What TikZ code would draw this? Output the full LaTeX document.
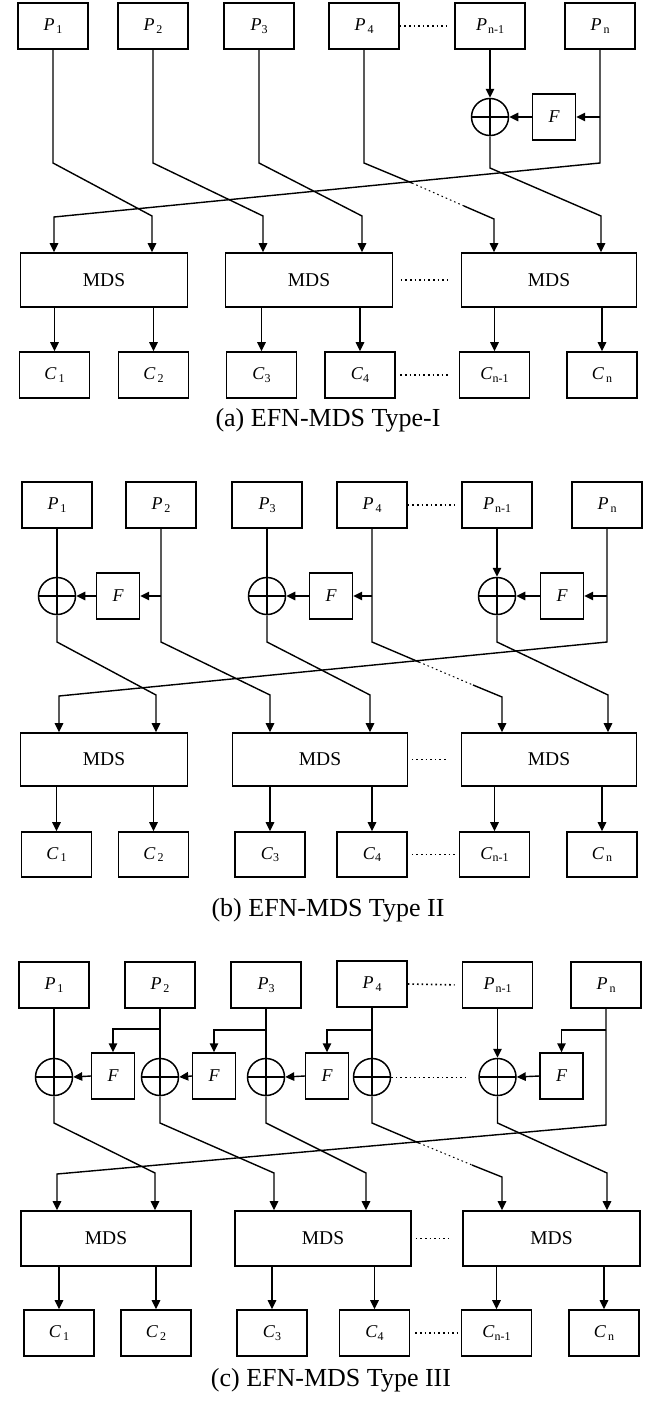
\documentclass[tikz,border=0pt]{standalone}
\usepackage{fontspec}
\setmainfont{Liberation Serif}
\usetikzlibrary{arrows.meta}
\newcommand{\lab}[3][2pt]{\textit{#2}\hspace{#1}\raisebox{-2.5pt}{\fontsize{12}{12}\selectfont #3}}
\begin{document}
\begin{tikzpicture}[x=1pt,y=-1pt,
box/.style={draw,line width=1.6pt,inner sep=0pt,minimum width=70pt,minimum height=46pt,font=\fontsize{18}{18}\selectfont},
mds/.style={draw,line width=1.6pt,inner sep=0pt,minimum height=54pt,font=\fontsize{19.5}{20}\selectfont},
fblock/.style={draw,line width=1.4pt,inner sep=0pt,minimum width=43pt,minimum height=46pt,font=\fontsize{18}{18}\selectfont\itshape},
xor/.style={draw,circle,line width=1.5pt,minimum size=37pt,inner sep=0pt,path picture={\draw[line width=1.5pt] (path picture bounding box.north) -- (path picture bounding box.south) (path picture bounding box.west) -- (path picture bounding box.east);}},
wire/.style={line width=1.4pt},
arr/.style={-{Triangle[length=9pt,width=8.5pt]}},
dotline/.style={line width=1.6pt,dash pattern=on 1.6pt off 3pt},
subcap/.style={font=\fontsize{26}{26}\selectfont}]
\useasboundingbox (0,0) rectangle (657,1405);
\node[box] (Pa1) at (53,26) {\lab{P}{1}};
\node[box] (Pa2) at (153,26) {\lab{P}{2}};
\node[box] (Pa3) at (259,26) {\lab[0pt]{P}{3}};
\node[box] (Pa4) at (364,26) {\lab{P}{4}};
\node[box] (Pa5) at (490,26) {\lab[1pt]{P}{n-1}};
\node[box] (Pa6) at (600,26) {\lab{P}{n}};
\node[xor] (Xa) at (490,117) {};
\node[fblock] (Fa) at (554,117) {F};
\node[mds,minimum width=167pt] (Ma1) at (104,280) {MDS};
\node[mds,minimum width=167pt] (Ma2) at (309,280) {MDS};
\node[mds,minimum width=175pt] (Ma3) at (549,280) {MDS};
\node[box] (Ca1) at (54.5,375) {\lab{C}{1}};
\node[box] (Ca2) at (153.5,375) {\lab{C}{2}};
\node[box] (Ca3) at (261.5,375) {\lab[0pt]{C}{3}};
\node[box] (Ca4) at (360,375) {\lab[0pt]{C}{4}};
\node[box] (Ca5) at (494.5,375) {\lab[0pt]{C}{n-1}};
\node[box] (Ca6) at (602,375) {\lab{C}{n}};
\node[subcap] (capa) at (328,420) {(a) EFN-MDS Type-I};
\draw[dotline,shorten >=7pt] (Pa4.east) -- (Pa5.west);
\draw[wire,arr] (Pa5.south) -- (Xa.north);
\draw[wire,arr] (Pa6.south |- Fa.east) -- (Fa.east);
\draw[wire,arr] (Fa.west) -- (Xa.east);
\draw[wire,arr] (Pa1.south) -- (53,163) -- (152,216) -- (152,216 |- Ma1.north);
\draw[wire,arr] (Pa2.south) -- (153,163) -- (263,216) -- (263,216 |- Ma2.north);
\draw[wire,arr] (Pa3.south) -- (259,163) -- (362,216) -- (362,216 |- Ma2.north);
\draw[wire] (Pa4.south) -- (364,163) -- (412,183);
\draw[dotline,line width=1pt] (412,183) -- (464,206);
\draw[wire,arr] (464,206) -- (494,219) -- (494,219 |- Ma3.north);
\draw[wire,arr] (Xa.south) -- (490,168) -- (601,216) -- (601,216 |- Ma3.north);
\draw[wire,arr] (Pa6.south) -- (600,163) -- (54,217) -- (54,217 |- Ma1.north);
\draw[dotline,shorten <=7.5pt,shorten >=13.5pt] (Ma2.east) -- (Ma3.west);
\draw[dotline,shorten <=4.5pt,shorten >=11pt] (Ca4.east) -- (Ca5.west);
\draw[wire,arr] (Ca1 |- Ma1.south) -- (Ca1.north);
\draw[wire,arr] (Ca2 |- Ma1.south) -- (Ca2.north);
\draw[wire,arr] (Ca3 |- Ma2.south) -- (Ca3.north);
\draw[wire,arr] (Ca4 |- Ma2.south) -- (Ca4.north);
\draw[wire,arr] (Ca5 |- Ma3.south) -- (Ca5.north);
\draw[wire,arr] (Ca6 |- Ma3.south) -- (Ca6.north);
\node[box] (Pb1) at (57,505) {\lab{P}{1}};
\node[box] (Pb2) at (161,505) {\lab{P}{2}};
\node[box] (Pb3) at (267,505) {\lab[0pt]{P}{3}};
\node[box] (Pb4) at (372,505) {\lab{P}{4}};
\node[box] (Pb5) at (497,505) {\lab[1pt]{P}{n-1}};
\node[box] (Pb6) at (607,505) {\lab{P}{n}};
\node[xor] (Xb1) at (57,596) {};
\node[xor] (Xb2) at (267,596) {};
\node[xor] (Xb3) at (497,596) {};
\node[fblock] (Fb1) at (118,596) {F};
\node[fblock] (Fb2) at (331,596) {F};
\node[fblock] (Fb3) at (562,596) {F};
\node[mds,minimum width=167pt,minimum height=53pt] (Mb1) at (104,759.5) {MDS};
\node[mds,minimum width=175pt,minimum height=53pt] (Mb2) at (320,759.5) {MDS};
\node[mds,minimum width=175pt,minimum height=53pt] (Mb3) at (549,759.5) {MDS};
\node[box,minimum height=45pt] (Cb1) at (56.5,854.5) {\lab{C}{1}};
\node[box,minimum height=45pt] (Cb2) at (153.5,854.5) {\lab{C}{2}};
\node[box,minimum height=45pt] (Cb3) at (270,854.5) {\lab[0pt]{C}{3}};
\node[box,minimum height=45pt] (Cb4) at (372,854.5) {\lab[0pt]{C}{4}};
\node[box,minimum height=45pt] (Cb5) at (494.5,854.5) {\lab[0pt]{C}{n-1}};
\node[box,minimum height=45pt] (Cb6) at (602,854.5) {\lab{C}{n}};
\node[subcap] (capb) at (328,910) {(b) EFN-MDS Type II};
\draw[dotline,shorten >=7pt] (Pb4.east) -- (Pb5.west);
\draw[wire] (Pb1.south) -- (Xb1.north);
\draw[wire] (Pb3.south) -- (Xb2.north);
\draw[wire,arr] (Pb5.south) -- (Xb3.north);
\draw[wire,arr] (Pb2.south |- Fb1.east) -- (Fb1.east);
\draw[wire,arr] (Pb4.south |- Fb2.east) -- (Fb2.east);
\draw[wire,arr] (Pb6.south |- Fb3.east) -- (Fb3.east);
\draw[wire,arr] (Fb1.west) -- (Xb1.east);
\draw[wire,arr] (Fb2.west) -- (Xb2.east);
\draw[wire,arr] (Fb3.west) -- (Xb3.east);
\draw[wire,arr] (Xb1.south) -- (57,642) -- (156,695) -- (156,695 |- Mb1.north);
\draw[wire,arr] (Pb2.south) -- (161,642) -- (270,695) -- (270,695 |- Mb2.north);
\draw[wire,arr] (Xb2.south) -- (267,642) -- (370,695) -- (370,695 |- Mb2.north);
\draw[wire] (Pb4.south) -- (372,642) -- (419,662);
\draw[dotline,line width=1pt] (419,662) -- (473,685);
\draw[wire,arr] (473,685) -- (502,697) -- (502,697 |- Mb3.north);
\draw[wire,arr] (Xb3.south) -- (497,642) -- (608,695) -- (608,695 |- Mb3.north);
\draw[wire,arr] (Pb6.south) -- (607,642) -- (59,696) -- (59,696 |- Mb1.north);
\draw[dotline,shorten <=3.5pt,shorten >=13.5pt] (Mb2.east) -- (Mb3.west);
\draw[dotline,shorten <=4pt,shorten >=2.5pt] (Cb4.east) -- (Cb5.west);
\draw[wire,arr] (Cb1 |- Mb1.south) -- (Cb1.north);
\draw[wire,arr] (Cb2 |- Mb1.south) -- (Cb2.north);
\draw[wire,arr] (Cb3 |- Mb2.south) -- (Cb3.north);
\draw[wire,arr] (Cb4 |- Mb2.south) -- (Cb4.north);
\draw[wire,arr] (Cb5 |- Mb3.south) -- (Cb5.north);
\draw[wire,arr] (Cb6 |- Mb3.south) -- (Cb6.north);
\node[box] (Pc1) at (54,985) {\lab{P}{1}};
\node[box] (Pc2) at (160,985) {\lab{P}{2}};
\node[box] (Pc3) at (266,985) {\lab[0pt]{P}{3}};
\node[box] (Pc4) at (372,984) {\lab{P}{4}};
\node[box] (Pc5) at (497.5,985) {\lab[1pt]{P}{n-1}};
\node[box] (Pc6) at (606,985) {\lab{P}{n}};
\node[xor] (Xc1) at (54,1077) {};
\node[xor] (Xc2) at (160,1077) {};
\node[xor] (Xc3) at (266,1077) {};
\node[xor] (Xc4) at (372,1077) {};
\node[xor] (Xc5) at (497.5,1077) {};
\node[fblock] (Fc1) at (113,1076) {F};
\node[fblock] (Fc2) at (214,1076) {F};
\node[fblock] (Fc3) at (327,1076) {F};
\node[fblock] (Fc4) at (561.5,1076) {F};
\node[mds,minimum width=170pt,minimum height=55pt] (Mc1) at (106,1238.5) {MDS};
\node[mds,minimum width=176pt,minimum height=55pt] (Mc2) at (323,1238.5) {MDS};
\node[mds,minimum width=177pt,minimum height=55pt] (Mc3) at (551.5,1238.5) {MDS};
\node[box] (Cc1) at (59,1333) {\lab{C}{1}};
\node[box] (Cc2) at (156,1333) {\lab{C}{2}};
\node[box] (Cc3) at (272,1333) {\lab[0pt]{C}{3}};
\node[box] (Cc4) at (374.5,1333) {\lab[0pt]{C}{4}};
\node[box] (Cc5) at (496.5,1333) {\lab[0pt]{C}{n-1}};
\node[box] (Cc6) at (604,1333) {\lab{C}{n}};
\node[subcap] (capc) at (331,1380) {(c) EFN-MDS Type III};
\draw[dotline,shorten >=7pt] (Pc4.east) -- (Pc5.west);
\draw[wire] (Pc1.south) -- (Xc1.north);
\draw[wire] (Pc2.south) -- (Xc2.north);
\draw[wire] (Pc3.south) -- (Xc3.north);
\draw[wire] (Pc4.south) -- (Xc4.north);
\draw[wire,arr] (Pc5.south) -- (Xc5.north);
\draw[wire,arr] (Pc2.south |- 0,1029) -| (Fc1.north);
\draw[wire,arr] (Pc3.south |- 0,1030) -| (Fc2.north);
\draw[wire,arr] (Pc4.south |- 0,1030) -| (Fc3.north);
\draw[wire,arr] (Pc6.south |- 0,1030) -| (Fc4.north);
\draw[wire,arr] (Fc1.west) -- (Xc1.east);
\draw[wire,arr] (Fc2.west) -- (Xc2.east);
\draw[wire,arr] (Fc3.west) -- (Xc3.east);
\draw[wire,arr] (Fc4.west) -- (Xc5.east);
\draw[dotline,line width=1pt,shorten >=10pt] (Xc4.east) -- (Xc5.west);
\draw[wire,arr] (Xc1.south) -- (54,1123) -- (155,1173) -- (155,1173 |- Mc1.north);
\draw[wire,arr] (Xc2.south) -- (160,1123) -- (274,1173) -- (274,1173 |- Mc2.north);
\draw[wire,arr] (Xc3.south) -- (266,1123) -- (366,1173) -- (366,1173 |- Mc2.north);
\draw[wire] (Xc4.south) -- (372,1123) -- (419,1143);
\draw[dotline,line width=1pt] (419,1143) -- (472,1165);
\draw[wire,arr] (472,1165) -- (502,1177) -- (502,1177 |- Mc3.north);
\draw[wire,arr] (Xc5.south) -- (497.5,1123) -- (607,1173) -- (607,1173 |- Mc3.north);
\draw[wire,arr] (Pc6.south) -- (606,1125) -- (57,1174) -- (57,1174 |- Mc1.north);
\draw[dotline,shorten <=4pt,shorten >=13pt] (Mc2.east) -- (Mc3.west);
\draw[dotline,shorten <=5pt] (Cc4.east) -- (Cc5.west);
\draw[wire,arr] (Cc1 |- Mc1.south) -- (Cc1.north);
\draw[wire,arr] (Cc2 |- Mc1.south) -- (Cc2.north);
\draw[wire,arr] (Cc3 |- Mc2.south) -- (Cc3.north);
\draw[wire,arr] (Cc4 |- Mc2.south) -- (Cc4.north);
\draw[wire,arr] (Cc5 |- Mc3.south) -- (Cc5.north);
\draw[wire,arr] (Cc6 |- Mc3.south) -- (Cc6.north);
\end{tikzpicture}
\end{document}
